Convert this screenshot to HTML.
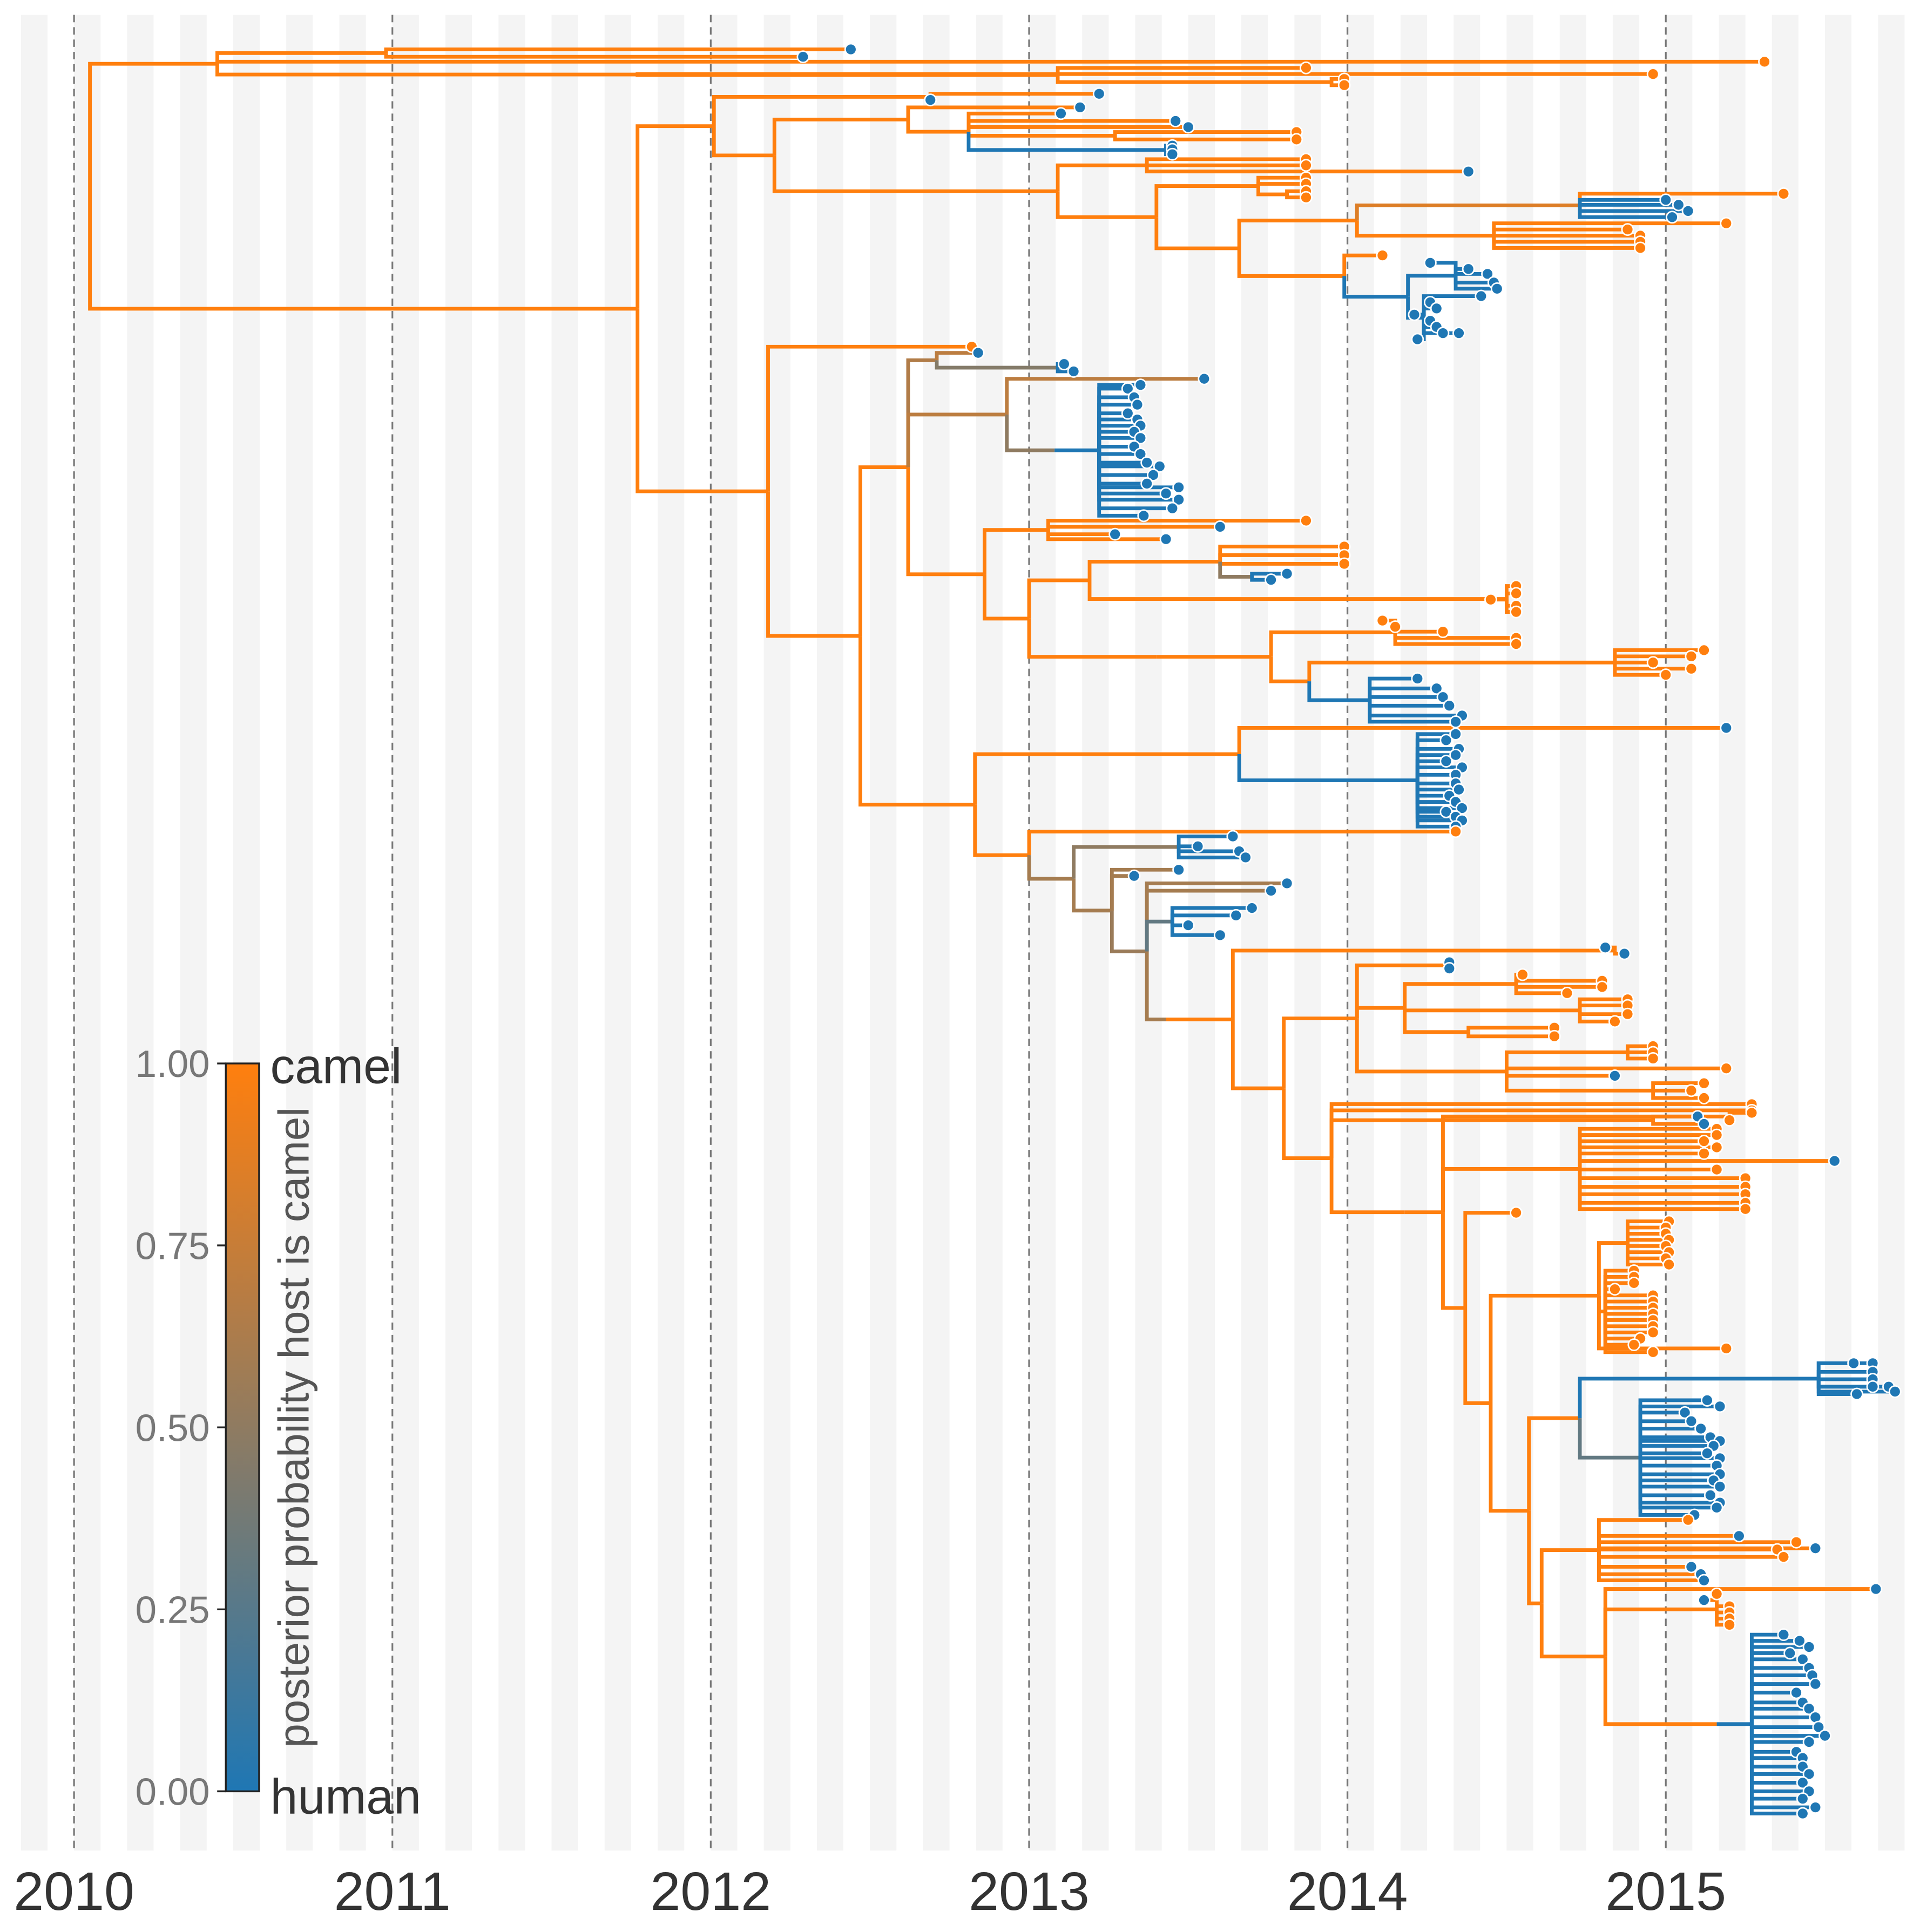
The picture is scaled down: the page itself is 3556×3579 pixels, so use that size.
<!DOCTYPE html>
<html><head><meta charset="utf-8">
<style>
html,body{margin:0;padding:0;background:#fff;}
svg{display:block;}
text{font-family:"Liberation Sans",sans-serif;}
</style></head>
<body>
<svg id="chart" xmlns="http://www.w3.org/2000/svg" width="3556" height="3579" viewBox="0 0 1556 1566">
<g id="bg"></g>
<g id="grid"></g>
<g id="edges"></g>
<g id="tips"></g>
<g id="xaxis"></g>
<g id="legend">
  <defs><linearGradient id="grad" x1="0" y1="1" x2="0" y2="0">
    <stop offset="0" stop-color="#1f77b4"/><stop offset="1" stop-color="#ff7f0e"/></linearGradient></defs>
  <rect x="183" y="862" width="27" height="590" fill="url(#grad)" stroke="#222" stroke-width="1.5"/>
  <text x="219" y="878" font-size="40" fill="#333">camel</text>
  <text x="219" y="1470" font-size="40" fill="#333">human</text>
  <text transform="translate(250,1157) rotate(-90)" text-anchor="middle" font-size="35" fill="#555">posterior probability host is camel</text>
</g>
</svg>
<script>
const years=[2010,2011,2012,2013,2014,2015];
const legendTicks=[0,0.25,0.5,0.75,1];
const legendLabels=["0.00","0.25","0.50","0.75","1.00"];
// tree: internal [time, P(camel), [children]], tip [time, P(camel) of branch, row, host(optional: 0 human,1 camel)]
const blueCluster1=[[2014.26,0,213],[2014.38,0,218],[2014.44,0,222],[2014.46,0,229],[2014.47,0,234],[2014.42,0,240],[2014.26,0,245],[2014.28,0,250],[2014.21,0,255],[2014.26,0,260],[2014.28,0,265],[2014.30,0,270],[2014.35,0,270],[2014.22,0,275]];
const blueCluster2=[[2013.31,0,315],[2013.35,0,312],[2013.33,0,322],[2013.34,0,328],[2013.31,0,335],[2013.34,0,340],[2013.35,0,345],[2013.33,0,350],[2013.35,0,355],[2013.33,0,362],[2013.35,0,368],[2013.37,0,375],[2013.41,0,378],[2013.39,0,385],[2013.37,0,392],[2013.47,0,395],[2013.43,0,400],[2013.47,0,405],[2013.45,0,412],[2013.36,0,418]];
const blueCluster3=[[2014.34,0,595],[2014.31,0,600],[2014.35,0,607],[2014.34,0,612],[2014.31,0,617],[2014.36,0,622],[2014.34,0,628],[2014.34,0,635],[2014.35,0,640],[2014.32,0,645],[2014.34,0,650],[2014.36,0,655],[2014.31,0,658],[2014.34,0,662],[2014.36,0,665],[2014.34,0,670]];
const blueCluster4=[[2015.59,0,1105],[2015.65,0,1105],[2015.65,0,1112],[2015.65,0,1118],[2015.65,0,1124],[2015.70,0,1124],[2015.72,0,1128],[2015.60,0,1130]];
const blueCluster5=[[2015.13,0,1135],[2015.17,0,1140],[2015.06,0,1145],[2015.08,0,1152],[2015.11,0,1158],[2015.14,0,1165],[2015.17,0,1168],[2015.15,0,1172],[2015.13,0,1178],[2015.17,0,1182],[2015.16,0,1188],[2015.17,0,1195],[2015.15,0,1200],[2015.17,0,1205],[2015.14,0,1212],[2015.17,0,1218],[2015.16,0,1222],[2015.09,0,1228]];
const blueCluster6=[[2015.37,0,1325],[2015.42,0,1330],[2015.45,0,1335],[2015.39,0,1340],[2015.43,0,1345],[2015.45,0,1352],[2015.46,0,1358],[2015.47,0,1365],[2015.41,0,1372],[2015.43,0,1380],[2015.45,0,1385],[2015.47,0,1392],[2015.48,0,1400],[2015.50,0,1407],[2015.45,0,1412],[2015.41,0,1420],[2015.43,0,1425],[2015.43,0,1432],[2015.45,0,1438],[2015.43,0,1445],[2015.45,0,1452],[2015.43,0,1458],[2015.47,0,1465],[2015.43,0,1470]];
const orangeCluster1=[[2015.01,1,990],[2015.0,1,995],[2015.0,1,1000],[2015.01,1,1005],[2015.0,1,1010],[2015.01,1,1015],[2015.0,1,1020],[2015.01,1,1025]];
const orangeCluster2=[[2014.90,1,1030],[2014.90,1,1035],[2014.90,1,1040],[2014.84,1,1045],[2014.96,1,1050],[2014.96,1,1055],[2014.96,1,1060],[2014.96,1,1065],[2014.96,1,1070],[2014.96,1,1075],[2014.96,1,1080],[2014.92,1,1085],[2014.90,1,1090],[2014.96,1,1096]];
const orangeCluster3=[[2015.16,1,915],[2015.16,1,920],[2015.12,1,925],[2015.16,1,930],[2015.12,1,935],[2015.53,1,941,0],[2015.16,1,948],[2015.25,1,955],[2015.25,1,962],[2015.25,1,968],[2015.25,1,975],[2015.25,1,980]];

// clade A
const a1=[2010.98,1,[[2012.44,1,40,0],[2012.29,1,46,0]]];
const a3i=[2013.95,1,[[2013.99,1,64],[2013.99,1,69]]];
const a3=[2011.77,1,[[2013.09,1,[[2013.87,1,55],a3i]],[2014.96,1,60]]];
const cladeA=[2010.45,1,[a1,[2015.31,1,50],a3]];

// clade B1
const b1a=[2012.69,1,[[2013.22,1,76,0],[2012.69,1,81,0]]];
const b1b1=[2012.81,1,[[2013.10,1,92,0],[2013.46,1,98,0],[2013.50,1,103,0],[2013.27,1,[[2013.84,1,107],[2013.84,1,113]]],[2013.43,0,[[2013.45,0,118],[2013.45,0,121],[2013.45,0,125]]]]];
const b1b=[2012.62,1,[[2013.16,1,87,0],b1b1]];
const b1c1=[2013.37,1,[[2013.87,1,129],[2013.87,1,134],[2014.38,1,139,0]]];
const b1c2a=[2013.72,1,[[2013.87,1,144],[2013.87,1,149],[2013.81,1,[[2013.87,1,155],[2013.87,1,160]]]]];
const b1c2b1=[2014.73,0.85,[[2015.37,1,157],[2015.0,0,162],[2015.04,0,166],[2015.07,0,171],[2015.02,0,176]]];
const b1c2b2=[2014.46,1,[[2015.19,1,181],[2014.88,1,186],[2014.92,1,191],[2014.92,1,196],[2014.92,1,201]]];
const bc1=[2014.19,0,[[2014.34,0,blueCluster1.slice(0,5)],[2014.24,0,blueCluster1.slice(5)]]];
const b1c2c=[2013.99,1,[[2014.11,1,207],bc1]];
const b1c2m=[2013.66,1,[[2014.03,1,[b1c2b1,b1c2b2]],b1c2c]];
const b1c2=[2013.40,1,[b1c2a,b1c2m]];
const b1c=[2013.09,1,[b1c1,b1c2]];
const cladeB1=[2012.01,1,[b1a,[2012.20,1,[b1b,b1c]]]];

// clade B2 upper
const b2a=[2012.71,0.65,[[2012.84,0.7,286,0],[2013.09,0.45,[[2013.11,0,295],[2013.14,0,301]]]]];
const b2b=[2012.93,0.7,[[2013.55,0.7,307,0],[2013.08,0.5,[[2013.22,0,blueCluster2]]]]];
const b2c1=[2013.06,1,[[2013.87,1,422],[2013.60,1,427,0],[2013.27,1,433,0],[2013.43,1,437,0]]];
const b2c2a=[2013.60,1,[[2013.99,1,443],[2013.99,1,450],[2013.99,1,457],[2013.70,0.5,[[2013.81,0,465],[2013.76,0,470]]]]];
const b2c2b=[2014.50,1,[[2014.53,1,475],[2014.53,1,481],[2014.45,1,486],[2014.53,1,491],[2014.53,1,496]]];
const b2c3a=[2014.15,1,[[2014.11,1,503],[2014.15,1,508],[2014.30,1,512],[2014.53,1,517],[2014.53,1,522]]];
const b2c3b1=[2014.84,1,[[2015.12,1,527],[2015.08,1,532],[2014.96,1,537],[2015.08,1,542],[2015.0,1,547]]];
const b2c3b2=[2014.07,0,[[2014.22,0,550],[2014.28,0,558],[2014.30,0,565],[2014.32,0,572],[2014.36,0,580],[2014.34,0,585]]];
const b2c3m=[2013.88,1,[b2c3b1,b2c3b2]];
const b2c3=[2013.40,1,[[2013.76,1,[b2c3a,b2c3m]]]];
const b2c2=[2013.19,1,[b2c2a,b2c2b]];
const b2c=[2012.86,1,[b2c1,[2013.00,1,[b2c2,b2c3]]]];
const b2upper=[2012.62,1,[b2a,b2b,b2c]];

// lower part
const l1=[2014.84,1,[[2014.81,1,768,0],[2014.87,1,773,0]]];
const l2a1=[2014.53,1,[[2014.55,1,790],[2014.80,1,795],[2014.80,1,800],[2014.69,1,805]]];
const l2a2=[2014.73,1,[[2014.88,1,810],[2014.88,1,815],[2014.88,1,822],[2014.84,1,828]]];
const l2a3=[2014.38,1,[[2014.65,1,833],[2014.65,1,840]]];
const l2a=[2014.18,1,[l2a1,l2a2,l2a3]];
const l2b1=[2014.88,1,[[2014.96,1,848],[2014.96,1,853],[2014.96,1,858]]];
const l2b2=[2014.96,1,[[2015.12,1,878],[2015.08,1,884],[2015.12,1,890]]];
const l2b=[2014.50,1,[l2b1,[2015.19,1,866],[2014.84,1,872,0],l2b2]];
const l2=[2014.03,1,[[2014.32,1,[[2014.32,1,780,0],[2014.32,1,785,0]]],l2a,l2b]];
const l3d1=[2014.79,1,[[2015.07,1,1232],[2015.23,1,1245,0],[2015.41,1,1250],[2015.35,1,1256],[2015.47,1,1255,0],[2015.37,1,1262],[2015.08,1,1270,0],[2015.11,1,1276,0],[2015.12,1,1281,0]]];
const l3d2a=[2015.16,1,[[2015.16,1,1292],[2015.12,1,1297,0],[2015.20,1,1302],[2015.20,1,1307],[2015.20,1,1312],[2015.20,1,1317]]];
const l3d2=[2014.81,1,[[2015.66,1,1288,0],l3d2a,[2015.16,1,[[2015.27,0,blueCluster6]]]]];
const l3d=[2014.61,1,[l3d1,l3d2]];
const l3c1=[2014.73,1,[[2015.48,0,blueCluster4],[2014.92,0.3,blueCluster5]]];
const l3c=[2014.57,1,[l3c1,l3d]];
const l3b1=[2014.79,1,[[2014.88,1,orangeCluster1],[2014.81,1,orangeCluster2],[2015.19,1,1093]]];
const l3b=[2014.45,1,[l3b1,l3c]];
const l3a1=[2015.20,1,[[2015.27,1,902],[2015.20,1,908]]];
const l3a=[2014.30,1,[l3a1,[2014.73,1,orangeCluster3],[2014.37,1,[[2014.53,1,983],l3b]]]];
const l3=[2013.95,1,[[2015.27,1,895],[2015.27,1,900],[2014.96,1,[[2015.10,1,905,0],[2015.12,1,911,0]]],[2014.18,1,[l3a]]]];
const lower=[2013.64,1,[l1,[2013.80,1,[l2,l3]]]];

// clade B2 middle
const m1=[2013.47,0.5,[[2013.64,0,678],[2013.53,0,686],[2013.66,0,690],[2013.68,0,695]]];
const m3=[2013.45,0.3,[[2013.70,0,736],[2013.65,0,742],[2013.50,0,750],[2013.60,0,758]]];
const m2i=[2013.37,0.55,[[2013.81,0.6,716,0],[2013.76,0.6,722,0],m3,[2013.43,0.6,[lower]]]];
const m2=[2013.26,0.6,[[2013.33,0.6,710,0],[2013.47,0.6,705,0],m2i]];
const b2mid=[2013.14,0.6,[m1,m2]];
const b2lower=[2012.83,1,[[2013.66,1,[[2015.19,1,590,0],[2014.22,0,blueCluster3]]],[2013.00,1,[[2014.34,1,674],b2mid]]]];
const cladeB2=[2012.18,1,[[2012.82,1,281],[2012.47,1,[b2upper,b2lower]]]];
const tree=[2010.05,1,[cladeA,[2011.77,1,[cladeB1,cladeB2]]]];

const NS="http://www.w3.org/2000/svg";
function X(t){return 60+(t-2010)*258;}
function col(p){const a=[31,119,180],b=[255,127,14];return "rgb("+a.map((v,i)=>Math.round(v+(b[i]-v)*p)).join(",")+")";}
function mk(tag,attrs,parent){const e=document.createElementNS(NS,tag);for(const k in attrs)e.setAttribute(k,attrs[k]);parent.appendChild(e);return e;}
const bg=document.getElementById('bg');
for(let m=-2;m<70;m+=2){const x0=X(2010+m/12),x1=X(2010+(m+1)/12);
  const w=Math.min(x1,1545)-Math.max(x0,16);
  if(w<=0)continue;
  const r=mk('rect',{x:Math.max(x0,16),y:12,width:w,height:1488,fill:'#f4f4f4'},bg);
  
  }
const grid=document.getElementById('grid'),xa=document.getElementById('xaxis');
years.forEach(y=>{const l=mk('line',{x1:X(y),x2:X(y),y1:12,y2:1500,stroke:'#777','stroke-width':1.4,'stroke-dasharray':'6,4'},grid);
  
  
  const t=mk('text',{x:X(y),y:1548,'text-anchor':'middle','font-size':44,fill:'#333'},xa);t.textContent=y;
  
  });
const lg=document.getElementById('legend');
legendTicks.forEach((v,i)=>{const y=1452-v*590;
  const tk=mk('line',{x1:176,x2:183,y1:y,y2:y,stroke:'#222','stroke-width':1.5},lg);
  
  
  const t=mk('text',{x:170,y:y+11,'text-anchor':'end','font-size':31,fill:'#777'},lg);t.textContent=legendLabels[i];
  
  });
function layout(n){if(Array.isArray(n[2])){const ys=n[2].map(layout);n.y=(Math.min(...ys)+Math.max(...ys))/2;}else n.y=n[2];return n.y;}
layout(tree);
const eg=document.getElementById('edges'),tg=document.getElementById('tips');
function draw(n){if(!Array.isArray(n[2]))return;const px=X(n[0]);
  n[2].forEach(c=>{const p=mk('path',{d:`M${px},${n.y}V${c.y}H${X(c[0])}`,fill:'none',stroke:col(c[1]),'stroke-width':3,'stroke-linejoin':'miter'},eg);
    
    
    if(Array.isArray(c[2]))draw(c);else{const host=(c[3]!==undefined)?c[3]:(c[1]>0.5?1:0);
      const ci=mk('circle',{cx:X(c[0]),cy:c.y,r:4.6,fill:col(host),stroke:'#fff','stroke-width':1.2},tg);
      
      }});}
draw(tree);
</script>
</body></html>
